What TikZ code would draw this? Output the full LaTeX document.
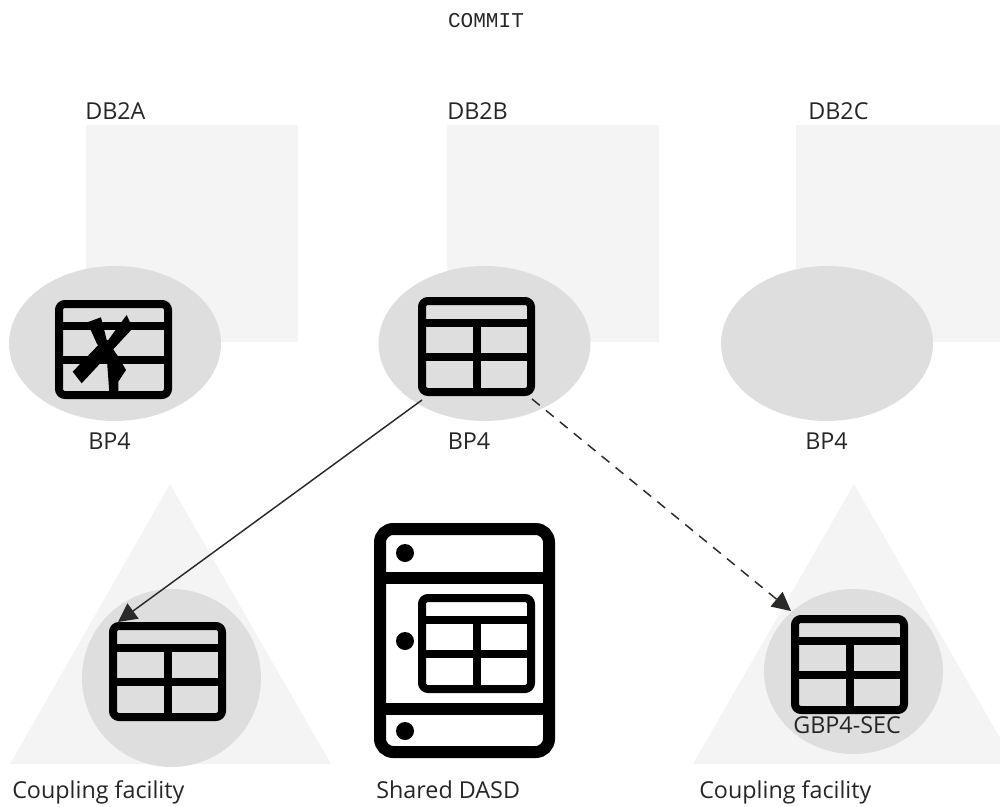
\documentclass[tikz,border=0pt]{standalone}
\usepackage{fontspec}
\setmainfont{Open Sans}
\setmonofont{Liberation Mono}
\usetikzlibrary{arrows.meta}
\definecolor{panel}{HTML}{F4F4F4}
\definecolor{blob}{HTML}{DEDEDE}
\definecolor{ink}{HTML}{262626}
\definecolor{arrowink}{HTML}{2A2B29}
\tikzset{
  panelfill/.style={fill=panel,draw=none},
  blobfill/.style={fill=blob,draw=none},
  lbl/.style={anchor=base west,inner sep=0pt,text=ink,font=\fontsize{17.5}{20}\selectfont},
  monolbl/.style={anchor=base,inner sep=0pt,text=ink,font=\ttfamily\fontsize{15.8}{18}\selectfont},
  tablebox/.style={draw=black,line width=6pt,rounded corners=4.5pt,inner sep=0pt,minimum width=81.75pt,minimum height=68.25pt,anchor=north west,fill=none},
  tablebar/.style={draw=black,line width=6pt},
  link/.style={draw=arrowink,line width=1.1pt,-{Triangle[length=14pt,width=14pt]}},
}
% name, left x, top y (outer edge), start of vertical bar relative to top
\newcommand{\tabicon}[4]{%
  \node[tablebox] (#1) at (#2,#3) {};
  \draw[tablebar] (#2+4,#3+26) -- ++(109,0);
  \draw[tablebar] (#2+4,#3+60) -- ++(109,0);
  \draw[tablebar] (#2+59,#3+#4) -- (#2+59,#3+95);
}
\begin{document}
\begin{tikzpicture}[x=0.75pt,y=-0.75pt]
\useasboundingbox (0,0) rectangle (1000,807);
\begin{scope}
\clip (0,0) rectangle (1000,807);
% DB2 panels
\path[panelfill] (86,125) rectangle (298,342);
\path[panelfill] (447,125) rectangle (659,342);
\path[panelfill] (796,125) rectangle (1008,342);
% buffer pool ellipses
\path[blobfill] (115,343.5) ellipse [x radius=106,y radius=77.5];
\path[blobfill] (484.5,343.5) ellipse [x radius=106,y radius=77.5];
\path[blobfill] (827,343.5) ellipse [x radius=106,y radius=77.5];
% coupling facility triangles
\path[panelfill] (170,484) -- (331,764) -- (10,764) -- cycle;
\path[panelfill] (854,484) -- (1015,764) -- (693,764) -- cycle;
\path[blobfill] (171.5,678) ellipse [x radius=89.5,y radius=89];
\path[blobfill] (853.5,671.5) ellipse [x radius=89.5,y radius=82.5];
\end{scope}
% tables
\tabicon{tblA}{55}{300}{60}
\tabicon{tblB}{418}{297}{26}
\tabicon{tblC}{109}{622}{26}
\tabicon{tblD}{791}{615}{26}
% damage on the DB2A table
\fill[black] (72.7,371.7) -- (100,343.3) -- (108.3,340) -- (121.7,321.7) -- (126.7,315) -- (132.7,328.3) -- (81.7,383.3) -- cycle;
\fill[black] (87.3,322.3) -- (101,317.3) -- (106.7,340) -- (118.3,356.7) -- (126,370) -- (118.3,381.7) -- (118.3,392) -- (109.3,392) -- (106.7,356.7) -- (96.7,343.3) -- cycle;
% shared DASD
\node[draw=black,line width=9pt,rounded corners=10pt,inner sep=0pt,minimum width=126.75pt,minimum height=167.25pt,anchor=north west,fill=none] (dasd) at (374,523) {};
\draw[black,line width=9pt] (380,578) -- (549,578);
\draw[black,line width=9pt] (380,709) -- (549,709);
\fill[black] (405,553) circle [radius=9];
\fill[black] (405,641) circle [radius=9];
\fill[black] (405,731) circle [radius=9];
\tabicon{tblE}{418}{594}{26}
% connectors
\draw[link] ([shift={(3pt,-3pt)}]tblB.south west) -- ([shift={(6.75pt,0pt)}]tblC.north west);
\draw[link,dashed,dash pattern=on 7.5pt off 6pt] ([shift={(85.5pt,-2.25pt)}]tblB.south west) -- ([shift={(0pt,3pt)}]tblD.north west);
% labels
\node[monolbl] (commit) at (486,27) {COMMIT};
\node[lbl] (la) at (85,119) {DB2A};
\node[lbl] (lb) at (447,119) {DB2B};
\node[lbl] (lc) at (808,119) {DB2C};
\node[lbl] (pa) at (88,449) {BP4};
\node[lbl] (pb) at (447.5,449) {BP4};
\node[lbl] (pc) at (805,449) {BP4};
\node[lbl] (gbp) at (793,733) {GBP4-SEC};
\node[lbl] (cfa) at (12,798) {Coupling facility};
\node[lbl] (sd) at (376,798) {Shared DASD};
\node[lbl] (cfb) at (699,798) {Coupling facility};
\end{tikzpicture}
\end{document}
